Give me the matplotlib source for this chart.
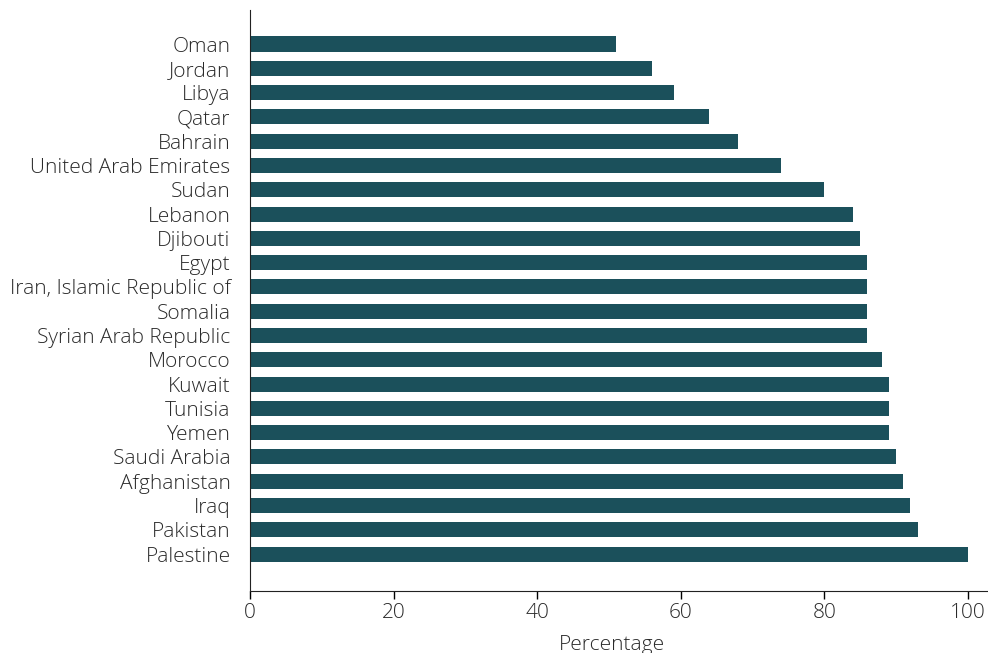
import matplotlib
matplotlib.use("Agg")
import matplotlib.pyplot as plt

countries = ["Palestine", "Pakistan", "Iraq", "Afghanistan", "Saudi Arabia", "Yemen",
             "Tunisia", "Kuwait", "Morocco", "Syrian Arab Republic", "Somalia",
             "Iran, Islamic Republic of", "Egypt", "Djibouti", "Lebanon", "Sudan",
             "United Arab Emirates", "Bahrain", "Qatar", "Libya", "Jordan", "Oman"]
values = [100, 93, 92, 91, 90, 89, 89, 89, 88, 86, 86, 86, 86, 85, 84, 80, 74, 68, 64, 59, 56, 51]

bar_color = "#1b505b"
text_color = "#2a2a2a"

plt.rcParams["font.family"] = ["Open Sans", "DejaVu Sans"]
plt.rcParams["font.weight"] = "light"
plt.rcParams["axes.labelweight"] = "light"

fig = plt.figure(figsize=(9.88, 6.53), dpi=100)
ax = fig.add_axes([250 / 988, 1 - 591 / 653, 738 / 988, 581 / 653])

ypos = list(range(len(countries)))
ax.barh(ypos, values, height=0.62, color=bar_color)

ax.set_yticks(ypos)
ax.set_yticklabels(countries)
ax.set_xticks([0, 20, 40, 60, 80, 100])
ax.set_xlim(0, 102.8)
ax.set_ylim(-1.52, 22.4)

ax.spines["top"].set_visible(False)
ax.spines["right"].set_visible(False)
ax.spines["left"].set_color("#222222")
ax.spines["bottom"].set_color("#222222")

ax.tick_params(axis="y", length=0, pad=14, labelsize=15, labelcolor=text_color)
ax.tick_params(axis="x", length=6, width=1, pad=3, labelsize=15, labelcolor=text_color)
ax.set_xlabel("Percentage", fontsize=15, color=text_color, fontweight="light")
ax.xaxis.set_label_coords(0.49, -0.075)

fig.savefig("out.png", dpi=100)
